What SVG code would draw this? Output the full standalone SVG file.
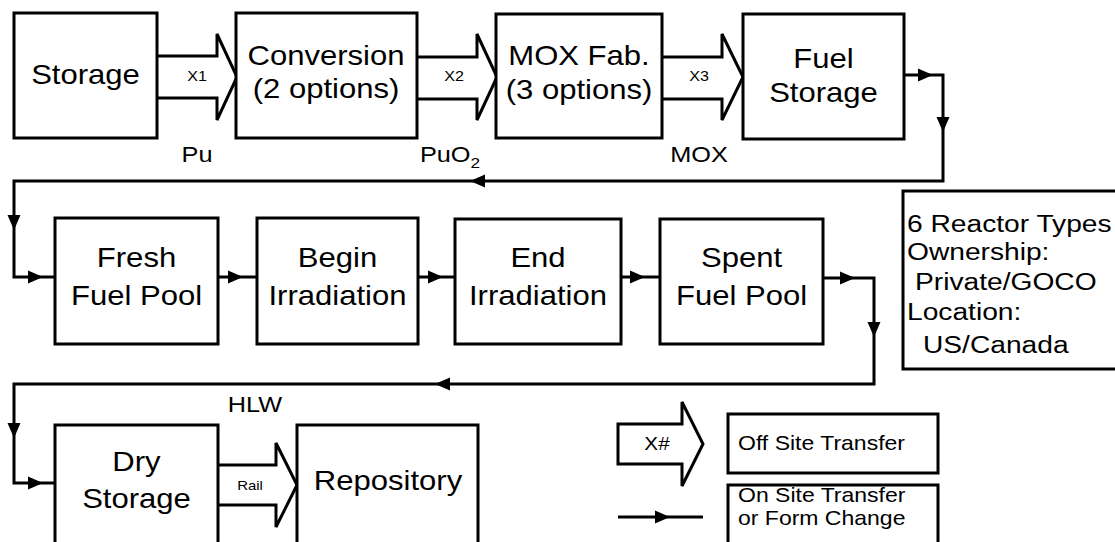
<svg xmlns="http://www.w3.org/2000/svg" xmlns:xlink="http://www.w3.org/1999/xlink" width="1115" height="542" viewBox="0 0 1115 542">
<style>
.box{fill:#fff;stroke:#000;stroke-width:3}
.big{fill:none;stroke:#000;stroke-width:3;stroke-linejoin:miter}
.con{fill:none;stroke:#000;stroke-width:3}
text{font-family:"Liberation Sans",Arial,Helvetica,sans-serif;fill:#000}
.t{font-size:27px;text-anchor:middle}
.lab{font-size:22px;text-anchor:middle}
.x{font-size:14px;text-anchor:middle}
.leg{font-size:24.5px}
.ls{font-size:20px}
</style>
<defs>
<path id="ah" d="M0,0 L-15,-6.5 L-15,6.5 Z" fill="#000"/>
</defs>
<rect width="1115" height="542" fill="#fff"/>
<g id="connectors">
<path class="con" d="M904,75 H943 V181 H14 V277 H55"/>
<path class="con" d="M218,277 H257"/>
<path class="con" d="M418,277 H455"/>
<path class="con" d="M621,277 H660"/>
<path class="con" d="M823,278 H874 V384 H14 V483 H55"/>
<use xlink:href="#ah" transform="translate(933,75)"/>
<use xlink:href="#ah" transform="translate(943,132) rotate(90)"/>
<use xlink:href="#ah" transform="translate(470,181) rotate(180)"/>
<use xlink:href="#ah" transform="translate(14,230) rotate(90)"/>
<use xlink:href="#ah" transform="translate(43,277)"/>
<use xlink:href="#ah" transform="translate(243,277)"/>
<use xlink:href="#ah" transform="translate(443,277)"/>
<use xlink:href="#ah" transform="translate(645,277)"/>
<use xlink:href="#ah" transform="translate(855,278)"/>
<use xlink:href="#ah" transform="translate(874,337) rotate(90)"/>
<use xlink:href="#ah" transform="translate(435,384) rotate(180)"/>
<use xlink:href="#ah" transform="translate(14,438) rotate(90)"/>
<use xlink:href="#ah" transform="translate(43,483)"/>
<path class="big" d="M157,56 H217 V34 L237,77 L217,120 V98 H157"/>
<text class="x" transform="translate(197,81) scale(1.15 1)">X1</text>
<path class="big" d="M417,57 H477 V34 L497,77 L477,120 V99 H417"/>
<text class="x" transform="translate(454,81) scale(1.15 1)">X2</text>
<path class="big" d="M662,57 H722 V34 L743,77 L722,120 V99 H662"/>
<text class="x" transform="translate(699,81) scale(1.15 1)">X3</text>
<path class="big" d="M218,465 H276 V443 L297,485 L276,527 V505 H218"/>
<text class="x" style="font-size:13px" transform="translate(250,490) scale(1.15 1)">Rail</text>
<text class="lab" transform="translate(197,162) scale(1.15 1)">Pu</text>
<text class="lab" transform="translate(450,162) scale(1.15 1)">PuO<tspan font-size="15" dy="6">2</tspan></text>
<text class="lab" transform="translate(699,162) scale(1.15 1)">MOX</text>
<text class="lab" transform="translate(255,412) scale(1.15 1)">HLW</text>
</g>
<g id="storage">
<rect class="box" x="14" y="13" width="143" height="125"/>
<text class="t" transform="translate(85.5,84) scale(1.15 1)">Storage</text>
</g>
<g id="conversion">
<rect class="box" x="236" y="13" width="181" height="125"/>
<text class="t" transform="translate(326,65) scale(1.15 1)">Conversion</text>
<text class="t" transform="translate(326,98) scale(1.15 1)">(2 options)</text>
</g>
<g id="moxfab">
<rect class="box" x="496" y="14" width="166" height="124"/>
<text class="t" transform="translate(579,65) scale(1.15 1)">MOX Fab.</text>
<text class="t" transform="translate(579,99) scale(1.15 1)">(3 options)</text>
</g>
<g id="fuelstorage">
<rect class="box" x="743" y="14" width="161" height="125"/>
<text class="t" transform="translate(823.5,68) scale(1.15 1)">Fuel</text>
<text class="t" transform="translate(823.5,102) scale(1.15 1)">Storage</text>
</g>
<g id="reactor">
<rect class="box" x="903" y="191" width="215" height="178"/>
<text class="leg" transform="translate(907,232) scale(1.15 1)">6 Reactor Types</text>
<text class="leg" transform="translate(907,260) scale(1.15 1)">Ownership:</text>
<text class="leg" transform="translate(915,290) scale(1.15 1)">Private/GOCO</text>
<text class="leg" transform="translate(907,320) scale(1.15 1)">Location:</text>
<text class="leg" transform="translate(923,353) scale(1.15 1)">US/Canada</text>
</g>
<g id="freshfuelpool">
<rect class="box" x="55" y="218" width="163" height="126"/>
<text class="t" transform="translate(136.5,267) scale(1.15 1)">Fresh</text>
<text class="t" transform="translate(136.5,305) scale(1.15 1)">Fuel Pool</text>
</g>
<g id="beginirradiation">
<rect class="box" x="257" y="218" width="161" height="126"/>
<text class="t" transform="translate(337.5,267) scale(1.15 1)">Begin</text>
<text class="t" transform="translate(337.5,305) scale(1.15 1)">Irradiation</text>
</g>
<g id="endirradiation">
<rect class="box" x="455" y="219" width="166" height="125"/>
<text class="t" transform="translate(538,267) scale(1.15 1)">End</text>
<text class="t" transform="translate(538,305) scale(1.15 1)">Irradiation</text>
</g>
<g id="spentfuelpool">
<rect class="box" x="660" y="219" width="163" height="125"/>
<text class="t" transform="translate(741.5,267) scale(1.15 1)">Spent</text>
<text class="t" transform="translate(741.5,305) scale(1.15 1)">Fuel Pool</text>
</g>
<g id="drystorage">
<rect class="box" x="55" y="425" width="163" height="125"/>
<text class="t" transform="translate(136.5,471) scale(1.15 1)">Dry</text>
<text class="t" transform="translate(136.5,508) scale(1.15 1)">Storage</text>
</g>
<g id="repository">
<rect class="box" x="297" y="425" width="181" height="125"/>
<text class="t" transform="translate(388,490) scale(1.15 1)">Repository</text>
</g>
<g id="legend">
<path class="big" d="M618,424 H682 V402 L703,444 L682,486 V464 H618 Z"/>
<text class="x" style="font-size:18px" transform="translate(657,450) scale(1.15 1)">X#</text>
<rect class="box" x="728" y="414" width="210" height="59"/>
<text class="ls" transform="translate(738,450) scale(1.15 1)">Off Site Transfer</text>
<path class="con" d="M618,517 H703"/>
<use xlink:href="#ah" transform="translate(670,517)"/>
<rect class="box" x="728" y="485" width="210" height="65"/>
<text class="ls" transform="translate(738,502) scale(1.15 1)">On Site Transfer</text>
<text class="ls" transform="translate(738,525) scale(1.15 1)">or Form Change</text>
</g>
</svg>
